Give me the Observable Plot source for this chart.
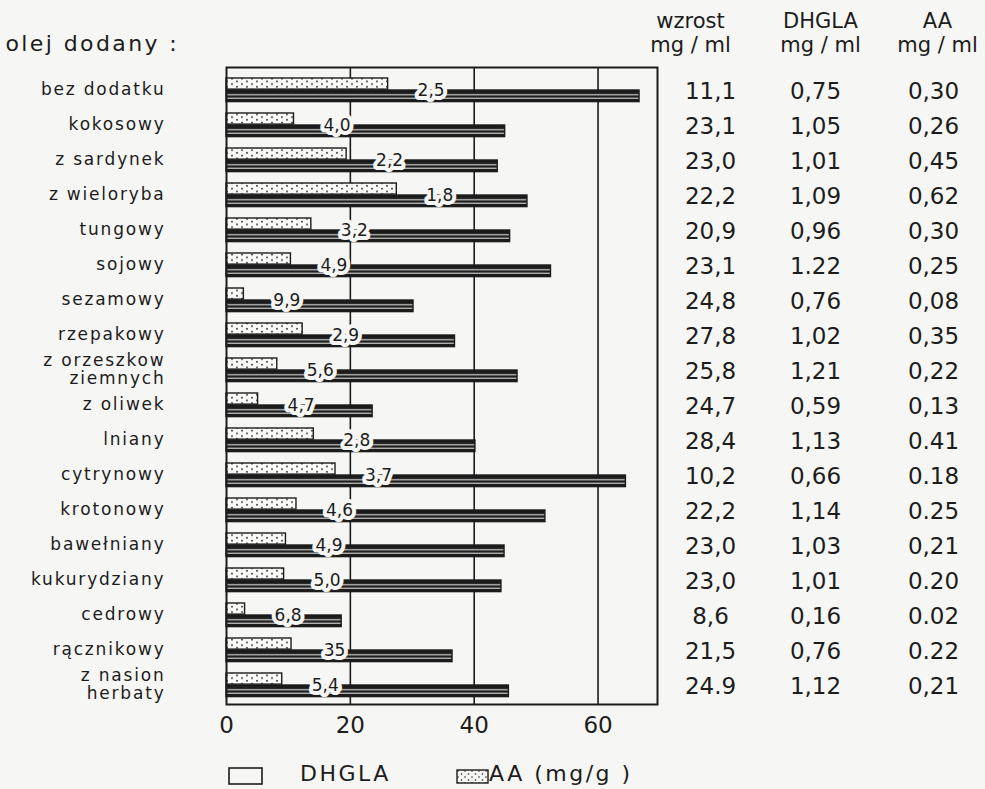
<!DOCTYPE html>
<html>
<head>
<meta charset="utf-8">
<script src="https://cdn.jsdelivr.net/npm/d3@7"></script>
<script src="https://cdn.jsdelivr.net/npm/@observablehq/plot@0.6"></script>
<style>
  html, body { margin: 0; padding: 0; background: #f6f6f4; }
  #chart svg { display: block; }
  g[aria-label="y-axis tick label"] text { letter-spacing: 1.8px; }
  #legend { position: relative; height: 34px; font-family: "DejaVu Sans", sans-serif; font-size: 22px; color: #1c1c1c; letter-spacing: 2.5px; }
  #legend span, #legend svg { position: absolute; }
</style>
</head>
<body>
<div id="chart"></div>
<div id="legend">
  <svg style="left:228px;top:12px" width="36" height="19"><rect x="1" y="1" width="33" height="16" fill="none" stroke="#1c1c1c" stroke-width="1.6"/></svg>
  <span style="left:300px;top:6px">DHGLA</span>
  <svg style="left:456px;top:14px" width="33" height="15">
    <defs><pattern id="ldots" patternUnits="userSpaceOnUse" width="7" height="6"><circle cx="2" cy="2" r="0.8" fill="#222"/><circle cx="5.5" cy="5" r="0.8" fill="#222"/></pattern></defs>
    <rect x="1" y="1" width="31" height="13" fill="url(#ldots)" stroke="#1c1c1c" stroke-width="1.4"/>
  </svg>
  <span style="left:489px;top:6px">AA (mg/g )</span>
</div>
<script>
const categories = [
  "bez dodatku", "kokosowy", "z sardynek", "z wieloryba", "tungowy", "sojowy",
  "sezamowy", "rzepakowy", "z orzeszkow\nziemnych", "z oliwek", "lniany", "cytrynowy",
  "krotonowy", "bawełniany", "kukurydziany", "cedrowy", "rącznikowy", "z nasion\nherbaty"
];
// bar lengths, mg/g
const dhglaMgG = [66.7, 45.0, 43.8, 48.6, 45.8, 52.4, 30.2, 36.9, 47.0, 23.6, 40.2, 64.5, 51.5, 44.9, 44.4, 18.6, 36.5, 45.6];
const aaMgG    = [26.1, 10.9, 19.4, 27.5, 13.7, 10.4,  2.8, 12.3,  8.2,  5.1, 14.1, 17.6, 11.3,  9.6,  9.3,  3.0, 10.5,  9.0];
// DHGLA/AA ratio labels
const ratioLabels = ["2,5","4,0","2,2","1,8","3,2","4,9","9,9","2,9","5,6","4,7","2,8","3,7","4,6","4,9","5,0","6,8","35","5,4"];
// table columns
const growthMgMl = ["11,1","23,1","23,0","22,2","20,9","23,1","24,8","27,8","25,8","24,7","28,4","10,2","22,2","23,0","23,0","8,6","21,5","24.9"];
const dhglaMgMl  = ["0,75","1,05","1,01","1,09","0,96","1.22","0,76","1,02","1,21","0,59","1,13","0,66","1,14","1,03","1,01","0,16","0,76","1,12"];
const aaMgMl     = ["0,30","0,26","0,45","0,62","0,30","0,25","0,08","0,35","0,22","0,13","0.41","0.18","0.25","0,21","0.20","0.02","0.22","0,21"];
const headers = ["wzrost\nmg / ml", "DHGLA\nmg / ml", "AA\nmg / ml"];
const title = "olej dodany :";
const xTicks = [0, 20, 40, 60];
const gridValues = [20, 40, 60];

const ink = "#1c1c1c";
const bg = "#f6f6f4";

const rows = categories.map((c, i) => ({
  cat: c, dhgla: dhglaMgG[i], aa: aaMgG[i], ratio: ratioLabels[i],
  growth: growthMgMl[i], dm: dhglaMgMl[i], am: aaMgMl[i]
}));

const H = 755, MT = 67, MB = 51;
const bw = (H - MT - MB) / categories.length;

const defs = d3.create("svg:defs");
const pd = defs.append("pattern").attr("id", "dots").attr("patternUnits", "userSpaceOnUse")
  .attr("width", 10).attr("height", 5.5);
pd.append("rect").attr("width", 10).attr("height", 5.5).attr("fill", "#fafaf8");
pd.append("circle").attr("cx", 2).attr("cy", 1.6).attr("r", 0.9).attr("fill", "#222");
pd.append("circle").attr("cx", 7).attr("cy", 4.3).attr("r", 0.9).attr("fill", "#222");
const ph = defs.append("pattern").attr("id", "hatch").attr("patternUnits", "objectBoundingBox")
  .attr("patternContentUnits", "objectBoundingBox").attr("width", 1).attr("height", 1);
ph.append("rect").attr("width", 1).attr("height", 1).attr("fill", ink);
ph.append("rect").attr("y", 0.36).attr("width", 1).attr("height", 0.09).attr("fill", "#e8e8e6");
ph.append("rect").attr("y", 0.66).attr("width", 1).attr("height", 0.09).attr("fill", "#e8e8e6");

const colText = (field, dx) => Plot.text(rows, {
  y: "cat", text: field, frameAnchor: "right", textAnchor: "middle", dx, dy: 3, fontSize: 23, fill: ink
});
const header = (t, dx) => Plot.text([t], {
  text: d => d, frameAnchor: "top-right", textAnchor: "middle", dx, dy: -35,
  lineAnchor: "middle", lineHeight: 1.15, fontSize: 21, fill: ink
});

const chart = Plot.plot({
  width: 985, height: H,
  marginTop: MT, marginBottom: MB, marginLeft: 226, marginRight: 328,
  style: { fontFamily: "DejaVu Sans, sans-serif", background: "transparent", color: ink, overflow: "visible" },
  x: { domain: [0, 69.6] },
  y: { domain: categories, padding: 0 },
  marks: [
    () => defs.node(),
    Plot.ruleX(gridValues, { stroke: ink, strokeWidth: 1.6 }),
    Plot.barX(rows, { y: "cat", x: "dhgla", fill: "url(#hatch)", stroke: ink, strokeWidth: 1.4, insetTop: 19, insetBottom: bw - 31 }),
    Plot.barX(rows, { y: "cat", x: "aa", fill: "url(#dots)", stroke: ink, strokeWidth: 1.4, insetTop: 7, insetBottom: bw - 18.5 }),
    Plot.text(rows, { y: "cat", x: "aa", text: "ratio", dx: 43, dy: 2, fontSize: 17, fill: ink, stroke: bg, strokeWidth: 8 }),
    Plot.frame({ stroke: ink, strokeWidth: 2 }),
    Plot.axisY({ tickSize: 0, tickPadding: 61, fontSize: 17, fill: ink, label: null, lineHeight: 1.08 }),
    Plot.axisX({ ticks: xTicks, tickSize: 0, tickPadding: 12, fontSize: 23, fill: ink, label: null }),
    colText("growth", 53),
    colText("dm", 158),
    colText("am", 276),
    header(headers[0], 33),
    header(headers[1], 163),
    header(headers[2], 280),
    Plot.text([title], { text: d => d, frameAnchor: "top-left", dx: -221, dy: -24, textAnchor: "start", lineAnchor: "middle", fontSize: 22, fill: ink })
  ]
});
d3.select(chart).selectAll("text").filter(function () {
  return headers.some(h => h.split("\n").includes(this.textContent)) || headers.includes(this.textContent);
}).style("letter-spacing", "2px");
d3.select(chart).selectAll("text").filter(function () { return this.textContent === title; })
  .style("letter-spacing", "2.4px");
document.getElementById("chart").appendChild(chart);
</script>
</body>
</html>
